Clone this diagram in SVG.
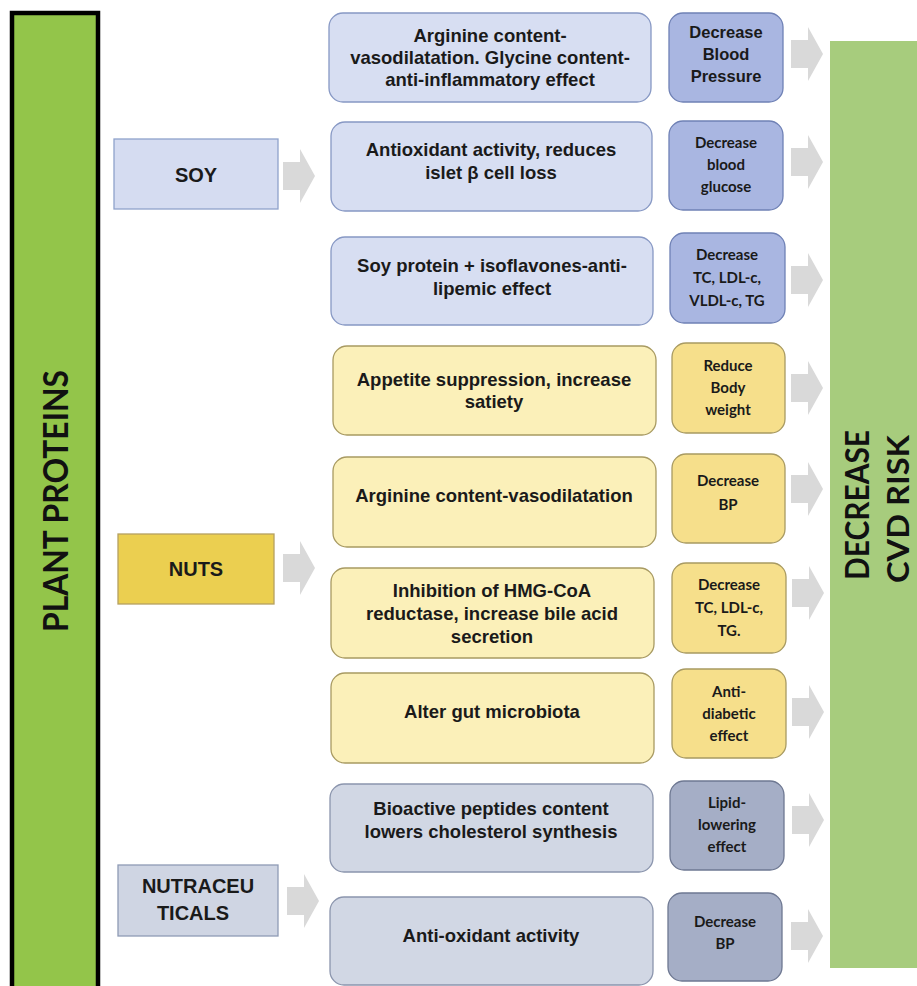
<svg xmlns="http://www.w3.org/2000/svg" xmlns:xlink="http://www.w3.org/1999/xlink" width="917" height="986" viewBox="0 0 917 986">
<defs>
<style>
.t{font-family:"Liberation Sans",Arial,sans-serif;font-weight:bold;font-size:18.5px;fill:#1a1a1a;text-anchor:middle}
.s{font-family:Lato,"Open Sans",sans-serif;font-weight:bold;font-size:15px;fill:#1a1a1a;text-anchor:middle}
.sa{font-family:"Liberation Sans",Arial,sans-serif;font-weight:bold;font-size:16.5px;fill:#1a1a1a;text-anchor:middle}
.lt{font-family:"Liberation Sans",Arial,sans-serif;font-weight:bold;font-size:20px;fill:#1a1a1a;text-anchor:middle}
.big{font-family:Lato,"Open Sans",sans-serif;font-weight:bold;fill:#111;text-anchor:middle}
.bb{fill:#d7def2;stroke:#8798c4;stroke-width:1.3}
.bs{fill:#a9b6e1;stroke:#6f81b5;stroke-width:1.3}
.yb{fill:#fbf0b9;stroke:#a89a62;stroke-width:1.3}
.ys{fill:#f6df8b;stroke:#a89a62;stroke-width:1.3}
.gb{fill:#d1d7e4;stroke:#8b95ad;stroke-width:1.3}
.gs{fill:#a5aec6;stroke:#6e7892;stroke-width:1.3}
.arr{fill:#d9d9d9}
</style>
<path id="ar" d="M0,-14 H17 V-27 L32,0 L17,27 V14 H0 Z"/>
</defs>
<rect width="917" height="986" fill="#ffffff"/>

<g id="plant-proteins">
<rect x="12" y="13" width="86" height="985" fill="#93c54a" stroke="#000" stroke-width="4.5"/>
<text class="big" font-size="34" transform="translate(68,501) rotate(-90)" textLength="262" lengthAdjust="spacingAndGlyphs">PLANT PROTEINS</text>
</g>

<g id="decrease-cvd-risk">
<rect x="830" y="41" width="100" height="927" fill="#a7cc7d"/>
<text class="big" font-size="32" transform="translate(869,505) rotate(-90)" textLength="150" lengthAdjust="spacingAndGlyphs">DECREASE</text>
<text class="big" font-size="30" transform="translate(909,509) rotate(-90)" textLength="148" lengthAdjust="spacingAndGlyphs">CVD RISK</text>
</g>

<g id="soy">
<rect x="114" y="139" width="164" height="70" fill="#d5dcf1" stroke="#8fa2cb" stroke-width="1.3"/>
<text class="lt" x="196" y="182">SOY</text>
</g>
<g id="nuts">
<rect x="118" y="534" width="156" height="70" fill="#ebcf50" stroke="#b5a060" stroke-width="1.3"/>
<text class="lt" x="196" y="576">NUTS</text>
</g>
<g id="nutraceuticals">
<rect x="118" y="865" width="160" height="71" fill="#cfd5e3" stroke="#8f9bb5" stroke-width="1.3"/>
<text class="lt" x="198" y="893">NUTRACEU</text>
<text class="lt" x="193" y="920">TICALS</text>
</g>

<g id="m1"><rect class="bb" x="329" y="13" width="322" height="89" rx="14"/>
<text class="t" x="490" y="42">Arginine content-</text>
<text class="t" x="490" y="64">vasodilatation. Glycine content-</text>
<text class="t" x="490" y="86">anti-inflammatory effect</text></g>
<g id="e1"><rect class="bs" x="669" y="13" width="114" height="89" rx="14"/>
<text class="sa" x="726" y="38">Decrease</text>
<text class="sa" x="726" y="60">Blood</text>
<text class="sa" x="726" y="82">Pressure</text></g>

<g id="m2"><rect class="bb" x="331" y="122" width="321" height="89" rx="14"/>
<text class="t" x="491" y="156">Antioxidant activity, reduces</text>
<text class="t" x="491" y="179">islet β cell loss</text></g>
<g id="e2"><rect class="bs" x="669" y="121" width="114" height="89" rx="14"/>
<text class="s" x="726" y="148">Decrease</text>
<text class="s" x="726" y="170">blood</text>
<text class="s" x="726" y="192">glucose</text></g>

<g id="m3"><rect class="bb" x="331" y="237" width="322" height="88" rx="14"/>
<text class="t" x="492" y="272">Soy protein + isoflavones-anti-</text>
<text class="t" x="492" y="295">lipemic effect</text></g>
<g id="e3"><rect class="bs" x="670" y="233" width="115" height="90" rx="14"/>
<text class="s" x="727" y="260">Decrease</text>
<text class="s" x="727" y="283">TC, LDL-c,</text>
<text class="s" x="727" y="306">VLDL-c, TG</text></g>

<g id="m4"><rect class="yb" x="333" y="346" width="323" height="89" rx="14"/>
<text class="t" x="494" y="386">Appetite suppression, increase</text>
<text class="t" x="494" y="408">satiety</text></g>
<g id="e4"><rect class="ys" x="672" y="343" width="113" height="90" rx="14"/>
<text class="s" x="728" y="371">Reduce</text>
<text class="s" x="728" y="393">Body</text>
<text class="s" x="728" y="415">weight</text></g>

<g id="m5"><rect class="yb" x="333" y="457" width="323" height="90" rx="14"/>
<text class="t" x="494" y="502">Arginine content-vasodilatation</text></g>
<g id="e5"><rect class="ys" x="672" y="454" width="113" height="89" rx="14"/>
<text class="s" x="728" y="486">Decrease</text>
<text class="s" x="728" y="510">BP</text></g>

<g id="m6"><rect class="yb" x="331" y="568" width="323" height="90" rx="14"/>
<text class="t" x="492" y="597">Inhibition of HMG-CoA</text>
<text class="t" x="492" y="620">reductase, increase bile acid</text>
<text class="t" x="492" y="643">secretion</text></g>
<g id="e6"><rect class="ys" x="672" y="563" width="114" height="90" rx="14"/>
<text class="s" x="729" y="590">Decrease</text>
<text class="s" x="729" y="613">TC, LDL-c,</text>
<text class="s" x="729" y="636">TG.</text></g>

<g id="m7"><rect class="yb" x="331" y="673" width="323" height="90" rx="14"/>
<text class="t" x="492" y="718">Alter gut microbiota</text></g>
<g id="e7"><rect class="ys" x="672" y="669" width="114" height="89" rx="14"/>
<text class="s" x="729" y="697">Anti-</text>
<text class="s" x="729" y="719">diabetic</text>
<text class="s" x="729" y="741">effect</text></g>

<g id="m8"><rect class="gb" x="330" y="784" width="323" height="88" rx="14"/>
<text class="t" x="491" y="815">Bioactive peptides content</text>
<text class="t" x="491" y="838">lowers cholesterol synthesis</text></g>
<g id="e8"><rect class="gs" x="670" y="781" width="114" height="89" rx="14"/>
<text class="s" x="727" y="808">Lipid-</text>
<text class="s" x="727" y="830">lowering</text>
<text class="s" x="727" y="852">effect</text></g>

<g id="m9"><rect class="gb" x="330" y="897" width="323" height="88" rx="14"/>
<text class="t" x="491" y="942">Anti-oxidant activity</text></g>
<g id="e9"><rect class="gs" x="668" y="893" width="114" height="88" rx="14"/>
<text class="s" x="725" y="927">Decrease</text>
<text class="s" x="725" y="949">BP</text></g>

<g id="connectors">
<use xlink:href="#ar" class="arr" x="283" y="176"/>
<use xlink:href="#ar" class="arr" x="283" y="568"/>
<use xlink:href="#ar" class="arr" x="287" y="901"/>
<use xlink:href="#ar" class="arr" x="791" y="54"/>
<use xlink:href="#ar" class="arr" x="791" y="162"/>
<use xlink:href="#ar" class="arr" x="791" y="280"/>
<use xlink:href="#ar" class="arr" x="791" y="388"/>
<use xlink:href="#ar" class="arr" x="791" y="489"/>
<use xlink:href="#ar" class="arr" x="792" y="593"/>
<use xlink:href="#ar" class="arr" x="792" y="712"/>
<use xlink:href="#ar" class="arr" x="792" y="820"/>
<use xlink:href="#ar" class="arr" x="791" y="936"/>
</g>
</svg>
